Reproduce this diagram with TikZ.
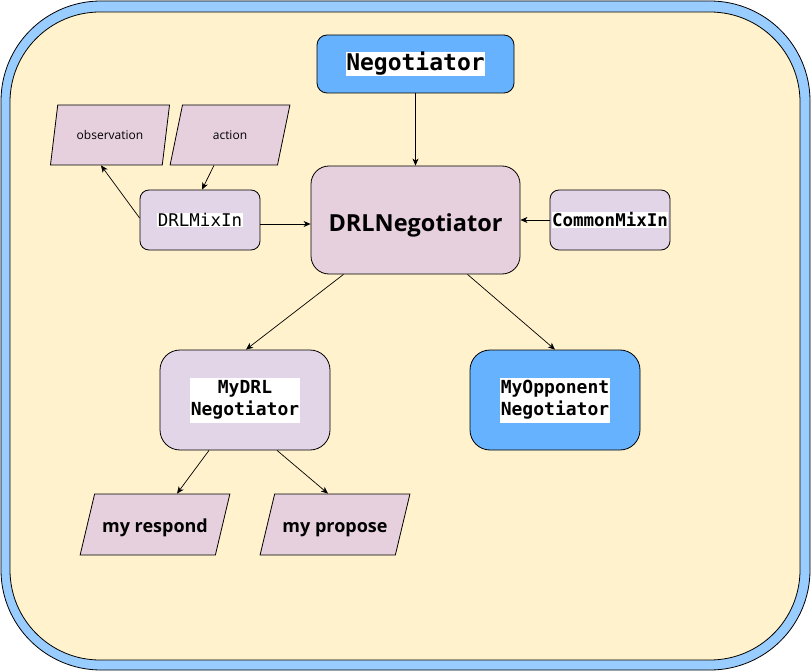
\documentclass[tikz,border=0pt]{standalone}
\usepackage{fontspec}
\setmainfont{Open Sans}
\setsansfont{Open Sans}
\setmonofont{DejaVu Sans Mono}
\usepackage{xcolor}
\usetikzlibrary{arrows.meta,shapes.geometric}

\definecolor{frameblue}{HTML}{99CCFF}
\definecolor{paper}{HTML}{FFF2CC}
\definecolor{nodeblue}{HTML}{66B2FF}
\definecolor{mauve}{HTML}{E6D0DE}
\definecolor{lilac}{HTML}{E1D5E7}

\newcommand{\codetag}[1]{{\setlength{\fboxsep}{0.5pt}\raisebox{-2.5pt}{\colorbox{white}{\ttfamily #1}}}}

\begin{document}
\begin{tikzpicture}[
  x=1pt,y=-1pt,
  box/.style={draw,line width=0.8pt,rounded corners=10pt,inner sep=0pt,align=center},
  mainbox/.style={box,fill=mauve,rounded corners=18pt,text height=29pt,
                  font=\fontsize{23.5}{28}\selectfont\bfseries},
  mixin/.style={box,fill=lilac,minimum width=120,minimum height=60,rounded corners=9pt,
                font=\fontsize{17.5}{21}\selectfont},
  childbox/.style={box,minimum width=170,minimum height=100,rounded corners=20pt,
                   font=\fontsize{18}{22}\selectfont\bfseries},
  dataio/.style={draw,line width=0.8pt,fill=mauve,trapezium,trapezium left angle=63.4,
                 trapezium right angle=116.6,trapezium stretches=true,inner sep=0pt},
  flow/.style={-{Stealth[length=7pt,width=6pt,inset=2pt]},line width=0.7pt}
]
\useasboundingbox (0,0) rectangle (811,671);
\draw[line width=0.8pt,fill=frameblue,rounded corners=100pt] (1,1) rectangle (810,670);
\draw[line width=0.8pt,fill=paper,rounded corners=90pt] (10,12) rectangle (800,660);

% classes
\node[box,fill=nodeblue,minimum width=197,minimum height=58,
      font=\fontsize{23}{27}\selectfont\bfseries] (nego) at (415.5,64) {\codetag{Negotiator}};
\node[mainbox,minimum width=209,minimum height=108] (drlnego) at (415.5,220) {DRLNegotiator};
\node[mixin,font=\fontsize{17.5}{21}\selectfont\bfseries] (common) at (610,220) {\codetag{CommonMixIn}};
\node[mixin] (drlmix) at (200,220) {\codetag{DRLMixIn}};
\node[childbox,fill=lilac] (mydrl) at (245,400)
  {\codetag{\begin{tabular}{@{}c@{}}MyDRL\\Negotiator\end{tabular}}};
\node[childbox,fill=nodeblue] (myopp) at (555,400)
  {\codetag{\begin{tabular}{@{}c@{}}MyOpponent\\Negotiator\end{tabular}}};

% inputs and outputs
\node[dataio,minimum width=120,minimum height=60,font=\fontsize{12}{14}\selectfont] (obs) at (110,135) {observation};
\node[dataio,minimum width=120,minimum height=60,font=\fontsize{12}{14}\selectfont] (act) at (230,135) {action};
\node[dataio,minimum width=150,minimum height=61,text height=21pt,
      font=\fontsize{18}{22}\selectfont\bfseries] (resp) at (155,524.5) {my respond};
\node[dataio,minimum width=150,minimum height=61,text height=21pt,
      font=\fontsize{18}{22}\selectfont\bfseries] (prop) at (335,524.5) {my propose};

% links
\draw[flow] (nego.south) -- (drlnego.north);
\draw[flow] (common.west) -- (drlnego.east);
\draw[flow] ([yshift=-4]drlmix.east) -- ([yshift=-4]drlnego.west);
\draw[flow] ([yshift=2]drlmix.west) -- ([xshift=-9]obs.south);
\draw[flow] ([xshift=-16]act.south) -- ([xshift=2]drlmix.north);
\draw[flow] ([xshift=-72]drlnego.south) -- ([xshift=1]mydrl.north);
\draw[flow] ([xshift=52]drlnego.south) -- (myopp.north);
\draw[flow] ([xshift=-36]mydrl.south) -- ([xshift=22]resp.north);
\draw[flow] ([xshift=32]mydrl.south) -- ([xshift=-7]prop.north);
\end{tikzpicture}
\end{document}
